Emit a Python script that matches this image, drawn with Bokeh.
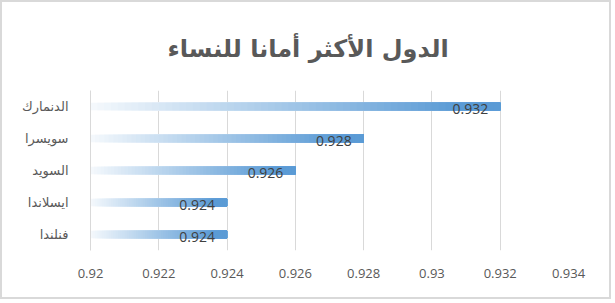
import numpy as np
from bokeh.plotting import figure
from bokeh.models import ColumnDataSource, FactorRange, Range1d, FixedTicker, LabelSet
from bokeh.core.properties import value
from bokeh.embed import file_html
from bokeh.resources import INLINE

title_text = "الدول الأكثر أمانا للنساء"
countries = ["الدنمارك", "سويسرا", "السويد", "ايسلاندا", "فنلندا"]
scores = [0.932, 0.928, 0.926, 0.924, 0.924]
score_labels = ["0.932", "0.928", "0.926", "0.924", "0.924"]
x_ticks = [0.92, 0.922, 0.924, 0.926, 0.928, 0.93, 0.932, 0.934]
x_tick_labels = ["0.92", "0.922", "0.924", "0.926", "0.928", "0.93", "0.932", "0.934"]
x_start, x_end = 0.92, 0.934

BLUE = (91, 155, 213)
N = 60

factors = list(reversed(countries))
p = figure(width=611, height=299, y_range=FactorRange(*factors),
           x_range=Range1d(x_start, x_end), output_backend="svg",
           toolbar_location=None, min_border_left=88, min_border_right=45,
           min_border_top=88, min_border_bottom=51)
p.styles = {"border": "2px solid #d9d9d9"}

# gradient bars: overlapping slices, each from its start to the bar end
lefts, rights, ys, colors = [], [], [], []
for c, v in zip(countries, scores):
    edges = np.linspace(x_start, v, N + 1)
    for i in range(N):
        t = (i + 0.5) / N
        s = min(1.0, 0.06 + 1.05 * t)
        col = tuple(int(round(255 + (b - 255) * s)) for b in BLUE)
        lefts.append(edges[i])
        rights.append(v)
        ys.append(c)
        colors.append("#%02x%02x%02x" % col)
src = ColumnDataSource(dict(left=lefts, right=rights, y=ys, color=colors))
p.hbar(y="y", left="left", right="right", height=0.23, fill_color="color",
       line_color=None, source=src)

lsrc = ColumnDataSource(dict(x=scores, y=countries, t=score_labels))
p.add_layout(LabelSet(x="x", y="y", text="t", source=lsrc, x_offset=-12, y_offset=-2,
                      text_align="right", text_baseline="middle",
                      text_font=value("Open Sans"), text_font_size="14px",
                      text_color="#404040"))

p.title.text = title_text
p.title.align = "left"
p.title.offset = 77
p.title.standoff = 56
p.title.text_font = "DejaVu Sans"
p.title.text_font_size = "24px"
p.title.text_font_style = "bold"
p.title.text_color = "#595959"

p.xaxis.ticker = FixedTicker(ticks=x_ticks)
p.xaxis.major_label_overrides = dict(zip(x_ticks, x_tick_labels))
p.xaxis.axis_line_color = None
p.xaxis.major_tick_line_color = None
p.xaxis.minor_tick_line_color = None
p.xaxis.major_label_standoff = 12
p.xaxis.major_label_text_font = "Open Sans"
p.xaxis.major_label_text_font_size = "13px"
p.xaxis.major_label_text_color = "#595959"

p.yaxis.axis_line_color = "#d9d9d9"
p.yaxis.major_tick_line_color = None
p.yaxis.minor_tick_line_color = None
p.yaxis.major_label_standoff = 16
p.yaxis.major_label_text_font = "DejaVu Sans"
p.yaxis.major_label_text_font_size = "13px"
p.yaxis.major_label_text_color = "#595959"

p.xgrid.grid_line_color = "#d9d9d9"
p.ygrid.grid_line_color = None
p.outline_line_color = None

open("out.html", "w").write(file_html(p, INLINE))
